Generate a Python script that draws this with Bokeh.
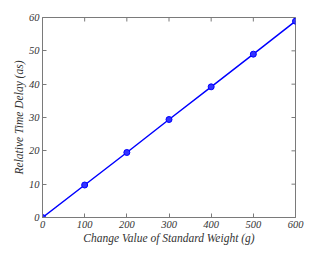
import math
from bokeh.plotting import figure
from bokeh.models import Range1d, FixedTicker
from bokeh.embed import file_html
from bokeh.resources import INLINE

weight = [0, 100, 200, 300, 400, 500, 600]
delay = [0, 9.75, 19.5, 29.4, 39.2, 49.0, 58.9]
x_ticks = [0, 100, 200, 300, 400, 500, 600]
y_ticks = [0, 10, 20, 30, 40, 50, 60]

FONT = "Liberation Serif"
AX = "#7a7a7a"
TXT = "#333333"

p = figure(width=311, height=246, output_backend="svg", toolbar_location=None,
           x_range=Range1d(0, 600), y_range=Range1d(0, 60),
           min_border_left=42, min_border_right=16, min_border_top=17,
           min_border_bottom=27)
p.grid.visible = False
p.outline_line_color = AX
p.background_fill_color = "white"

for ax, ticks in ((p.xaxis[0], x_ticks), (p.yaxis[0], y_ticks)):
    ax.ticker = FixedTicker(ticks=ticks)
    ax.axis_line_color = AX
    ax.major_tick_line_color = AX
    ax.major_tick_in = 4
    ax.major_tick_out = 0
    ax.minor_tick_line_color = None
    ax.major_label_text_font = FONT
    ax.major_label_text_font_style = "italic"
    ax.major_label_text_color = TXT
    ax.major_label_text_font_size = "10.5px"
    ax.major_label_standoff = 3
    ax.axis_label_text_font = FONT
    ax.axis_label_text_font_style = "italic"
    ax.axis_label_text_font_size = "11.5px"
    ax.axis_label_text_color = TXT
    ax.axis_label_standoff = 1

p.xaxis.axis_label = "Change Value of Standard Weight (g)"
p.yaxis.axis_label = "Relative Time Delay (as)"

# inward ticks on the top and right edges of the box
p.ray(x=x_ticks, y=[60] * len(x_ticks), length=4, length_units="screen",
      angle=-math.pi / 2, line_color=AX, line_width=1)
p.ray(x=[600] * len(y_ticks), y=y_ticks, length=4, length_units="screen",
      angle=math.pi, line_color=AX, line_width=1)

p.line(weight, delay, line_color="#0000ff", line_width=1.5)
p.scatter(weight, delay, size=6, line_color="#0000ff", fill_color="#3333ff", line_width=1)

open("out.html", "w").write(file_html(p, INLINE))
